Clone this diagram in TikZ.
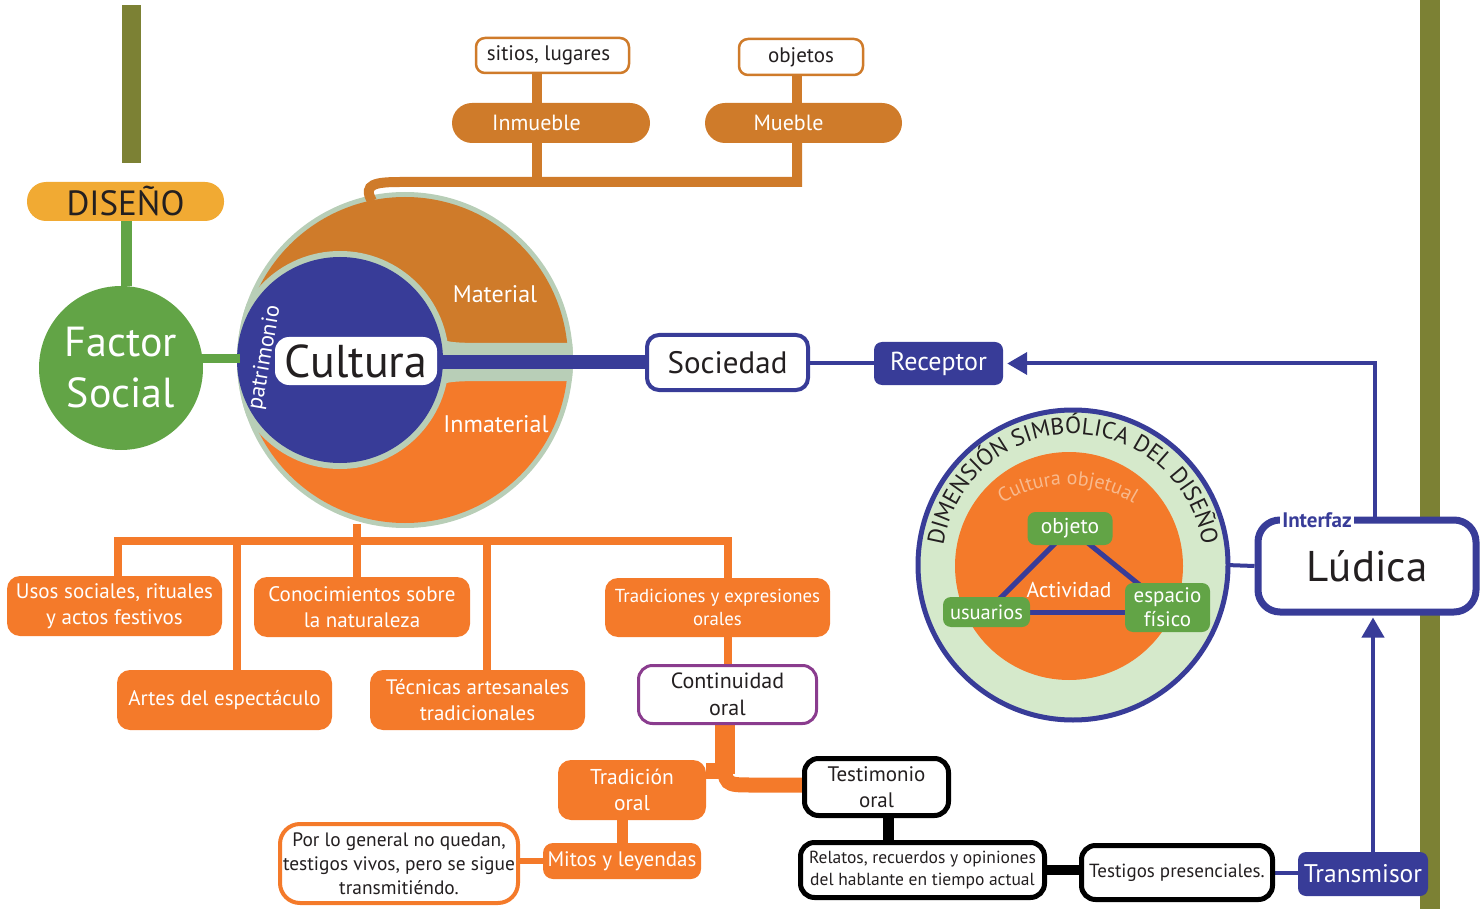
\documentclass[tikz,border=0pt]{standalone}
\usepackage{fontspec}
\setmainfont{PT Sans}
\usetikzlibrary{arrows.meta,decorations.text}
\definecolor{txt}{HTML}{231F20}
\definecolor{brwn}{HTML}{CF7B2A}
\definecolor{orng}{HTML}{F47A2A}
\definecolor{pale}{HTML}{B8CEB7}
\definecolor{palegr}{HTML}{D5E9CB}
\definecolor{blu}{HTML}{383C98}
\definecolor{grn}{HTML}{62A446}
\definecolor{olivebar}{HTML}{7C8134}
\definecolor{disfill}{HTML}{F1AA33}
\definecolor{purp}{HTML}{8A3C8E}
\definecolor{peach}{HTML}{F8BA8E}
\newcommand{\fsz}[2]{\fontsize{#1}{#2}\selectfont}
\pgfdeclarelayer{bg}
\pgfdeclarelayer{mid}
\pgfsetlayers{bg,mid,main}
\begin{document}
\begin{tikzpicture}[x=1pt,y=-1pt,
  wh/.style 2 args={minimum width=#1pt,minimum height=#2pt},
  base/.style={inner sep=0pt,align=center},
  orbox/.style={base,fill=orng,text=white,rounded corners=13pt,font=\fsz{21}{26}},
  brpill/.style={base,fill=brwn,text=white,rounded corners=20pt,font=\fsz{22}{25}},
  brwhite/.style={base,fill=white,draw=brwn,line width=2.5pt,text=txt,rounded corners=9pt,font=\fsz{21}{23}},
  blfill/.style={base,fill=blu,text=white,rounded corners=8pt,font=\fsz{25.5}{28}},
  blkbox/.style={base,fill=white,draw=black,line width=5pt,text=txt,rounded corners=14pt},
  grbox/.style={base,fill=grn,text=white,rounded corners=8pt,font=\fsz{21.5}{24}},
  oline/.style={draw=orng,line width=8pt},
  bline/.style={draw=brwn,line width=10pt},
  tip/.style={-{Triangle[length=20pt,width=22pt]}}
]
\useasboundingbox (0,0) rectangle (1481,909);

% ---------------- nodes ----------------
\node[base,fill=disfill,rounded corners=19pt,wh={197}{39},text=txt,font=\fsz{35}{36}] (diseno) at (125.5,201.5) {DISEÑO};
\node[base,circle,fill=grn,minimum size=164pt,text=white,font=\fsz{42}{51}] (factor) at (121,368) {Factor\\Social};

\node[brwhite,wh={153}{35}] (sitios) at (552.5,55.5) {\hspace*{-8pt}sitios, lugares};
\node[brwhite,wh={124}{36}] (objetos) at (801,57) {objetos};
\node[brpill,wh={198}{40}] (inmueble) at (551,123) {\hspace*{-29pt}Inmueble};
\node[brpill,wh={197}{40}] (mueble) at (803.5,123) {\hspace*{-30pt}Mueble};

\node[base,fill=white,rounded corners=14pt,wh={162}{48},text=txt,font=\fsz{46}{50}] (cult) at (356,361) {Cultura};
\node[rotate=80,text=white,font=\fsz{22.5}{24},inner sep=0pt] (patr) at (265,358) {patrimonio};
\node[text=white,font=\fsz{24}{26},inner sep=0pt] (material) at (495,294) {Material};
\node[text=white,font=\fsz{24}{26},inner sep=0pt] (inmaterial) at (496,424) {Inmaterial};

\node[base,fill=white,draw=blu,line width=4pt,rounded corners=12pt,wh={161}{55},text=txt,font=\fsz{31}{34}] (sociedad) at (727.5,362.5) {Sociedad};
\node[blfill,wh={129}{43},font=\fsz{26}{28}] (receptor) at (938.5,363.5) {Receptor};
\node[base,fill=white,draw=blu,line width=7pt,rounded corners=22pt,wh={218}{92},text=txt,font=\fsz{43}{46}] (ludica) at (1367,566) {Lúdica};
\node[fill=white,text=blu,font=\bfseries\fsz{21}{22},inner sep=2pt] (interfaz) at (1317,520) {Interfaz};
\node[blfill,wh={130}{44}] (transmisor) at (1363,874) {Transmisor};

\node[grbox,wh={85}{33}] (objeto) at (1070,528.5) {objeto};
\node[grbox,wh={87}{30},font=\fsz{20.5}{22}] (usuarios) at (986.5,612) {usuarios};
\node[grbox,wh={85}{49},font=\fsz{21}{24}] (espacio) at (1167.5,607.5) {espacio\\físico};
\node[text=white,font=\fsz{21.5}{23},inner sep=0pt] (actividad) at (1069,590) {Actividad};

\node[orbox,wh={215}{60}] (usos) at (114.5,606) {Usos sociales, rituales\\y actos festivos};
\node[orbox,wh={216}{60}] (conoc) at (362,607) {Conocimientos sobre\\la naturaleza};
\node[orbox,wh={215}{60}] (artes) at (224.5,700) {Artes del espectáculo};
\node[orbox,wh={215}{60}] (tecnicas) at (477.5,700) {Técnicas artesanales\\tradicionales};
\node[orbox,wh={225}{59},font=\fsz{18.8}{23}] (tradiciones) at (717.5,607.5) {Tradiciones y expresiones\\orales};
\node[base,fill=white,draw=purp,line width=3pt,rounded corners=14pt,wh={178}{58},text=txt,font=\fsz{22}{27}] (continuidad) at (727.5,694.5) {Continuidad\\oral};
\node[orbox,wh={148}{60},font=\fsz{21.5}{26}] (tradicion) at (632,790) {Tradición\\oral};
\node[orbox,wh={158}{36},rounded corners=10pt,font=\fsz{21}{24}] (mitos) at (622,861) {Mitos y leyendas};
\node[base,fill=white,draw=orng,line width=4pt,rounded corners=20pt,wh={238}{79},text=txt,font=\fsz{19.4}{24}] (porlo) at (399,863.5) {Por lo general no quedan,\\testigos vivos, pero se sigue\\transmitiéndo.};
\node[blkbox,wh={144}{57},font=\fsz{21}{26}] (testimonio) at (876.5,787) {Testimonio\\oral};
\node[blkbox,wh={244}{55},font=\fsz{17.5}{22}] (relatos) at (922.5,870) {Relatos, recuerdos y opiniones\\del hablante en tiempo actual};
\node[blkbox,wh={191}{54},font=\fsz{19}{22}] (testigos) at (1177,872.5) {Testigos presenciales.};

% ---------------- coordinates ----------------
\coordinate (busT) at (400,182);
\coordinate (vI) at (537,0);
\coordinate (vM) at (797,0);
\coordinate (busB) at (0,541);
\coordinate (xU) at (118,0);
\coordinate (xA) at (237,0);
\coordinate (xC) at (357,0);
\coordinate (xT) at (487,0);
\coordinate (xR) at (728,0);
\coordinate (xK) at (725,0);
\coordinate (xTR) at (888,0);
\coordinate (cultBot) at (357,524);
\coordinate (cultL) at (240,359);
\coordinate (bluE) at (430,362);
\coordinate (rcE) at (1226,565);
\coordinate (jL) at (724,771);
\coordinate (jA) at (724,758);
\coordinate (jB) at (725,785);
\coordinate (jR) at (752,785);
\coordinate (curlA) at (372,201);

% ---------------- background shapes ----------------
\begin{pgfonlayer}{bg}
\fill[olivebar] (122,5) rectangle (141,163);
\fill[olivebar] (1420,0) rectangle (1440,909);
% Cultura circle
\fill[pale] (405,360) circle[radius=168];
\begin{scope}
  \clip (405,360) circle[radius=163];
  \fill[brwn] (230,190) rectangle (580,360);
  \fill[orng] (230,360) rectangle (580,530);
\end{scope}
\begin{scope}
  \clip (405,360) circle[radius=168];
  \fill[pale] (425,318) .. controls (440,342) .. (472,343) -- (580,343) -- (580,381) -- (472,381) .. controls (440,382) .. (425,404) -- cycle;
  \fill[pale] (340,360) circle[radius=109];
\end{scope}
\fill[blu] (340,360) circle[radius=103];
% Dimension circle
\filldraw[fill=palegr,draw=blu,line width=5pt] (1073,565) circle[radius=155];
\fill[orng] (1069,566) circle[radius=114];
\path[decorate,decoration={text along path,text align=center,
  text={|\fsz{23.5}{25}\color{txt}|DIMENSIÓN SIMBÓLICA DEL DISEÑO}}]
  (1073,565) ++(168:131) arc[start angle=168,end angle=372,radius=131];
\path[decorate,decoration={text along path,text align=center,
  text={|\fsz{20}{21}\color{peach}|Cultura objetual}}]
  (1068,611) ++(215:126) arc[start angle=215,end angle=325,radius=126];
\end{pgfonlayer}

% ---------------- connectors ----------------
\begin{pgfonlayer}{mid}
\draw[grn,line width=11pt] (diseno.south -| 126,0) -- (factor.north -| 126,0);
\draw[grn,line width=9pt] (factor.center |- cultL) -- (cultL);
% top brown tree
\draw[bline] (sitios.south -| vI) -- (inmueble.north -| vI);
\draw[bline] (objetos.south -| vM) -- (mueble.north -| vM);
\draw[bline] (inmueble.south -| vI) -- (busT -| vI);
\draw[bline,line join=miter] (curlA) .. controls (362,184) and (376,182) .. (busT) -- (busT -| vM) -- (mueble.south -| vM);
% Cultura to Sociedad
\draw[blu,line width=14pt] (bluE) -- (sociedad.west |- bluE);
\draw[blu,line width=4pt] (sociedad.east |- receptor.west) -- (receptor.west);
\draw[blu,line width=4pt,tip,shorten >=4pt] ([xshift=8pt]ludica.north) |- (receptor.east);
\draw[blu,line width=4pt,tip] ([xshift=10pt]transmisor.north) -- ([xshift=10pt,yshift=-2pt]transmisor.north |- ludica.south);
\draw[blu,line width=4pt] (rcE) -- (ludica.west);
% triangle
\draw[blu,line width=5pt] (objeto.center) -- (usuarios.center);
\draw[blu,line width=5pt] (objeto.center) -- (espacio.center);
\draw[blu,line width=5pt] (usuarios.center) -- (espacio.west |- usuarios.center);
% bottom orange tree
\draw[oline,line join=miter] (usos.north -| xU) -- (busB -| xU) -- (busB -| xR) -- (tradiciones.north -| xR);
\draw[oline] (busB -| xA) -- (artes.north -| xA);
\draw[oline] (busB -| xT) -- (tecnicas.north -| xT);
\draw[oline] (cultBot) -- (conoc.north -| xC);
\draw[oline] (tradiciones.south -| xR) -- (continuidad.north -| xR);
\draw[orng,line width=20pt] (continuidad.south -| xK) -- (jL -| xK) -- ++(0,3);
\draw[orng,line width=16pt] (tradicion.east |- jL) -- (jL);
\draw[orng,line width=15pt] (jA) .. controls (jB) .. (jR) -- (testimonio.west |- jR);
\draw[orng,line width=11pt] (tradicion.south -| mitos.north) -- (mitos.north);
\draw[orng,line width=6pt] (porlo.east |- mitos.west) -- (mitos.west);
\draw[black,line width=11pt] (testimonio.south -| xTR) -- (relatos.north -| xTR);
\draw[black,line width=10pt] (relatos.east) -- (testigos.west |- relatos.east);
\draw[blu,line width=4pt] (testigos.east) -- (transmisor.west |- testigos.east);
\end{pgfonlayer}
\end{tikzpicture}
\end{document}
